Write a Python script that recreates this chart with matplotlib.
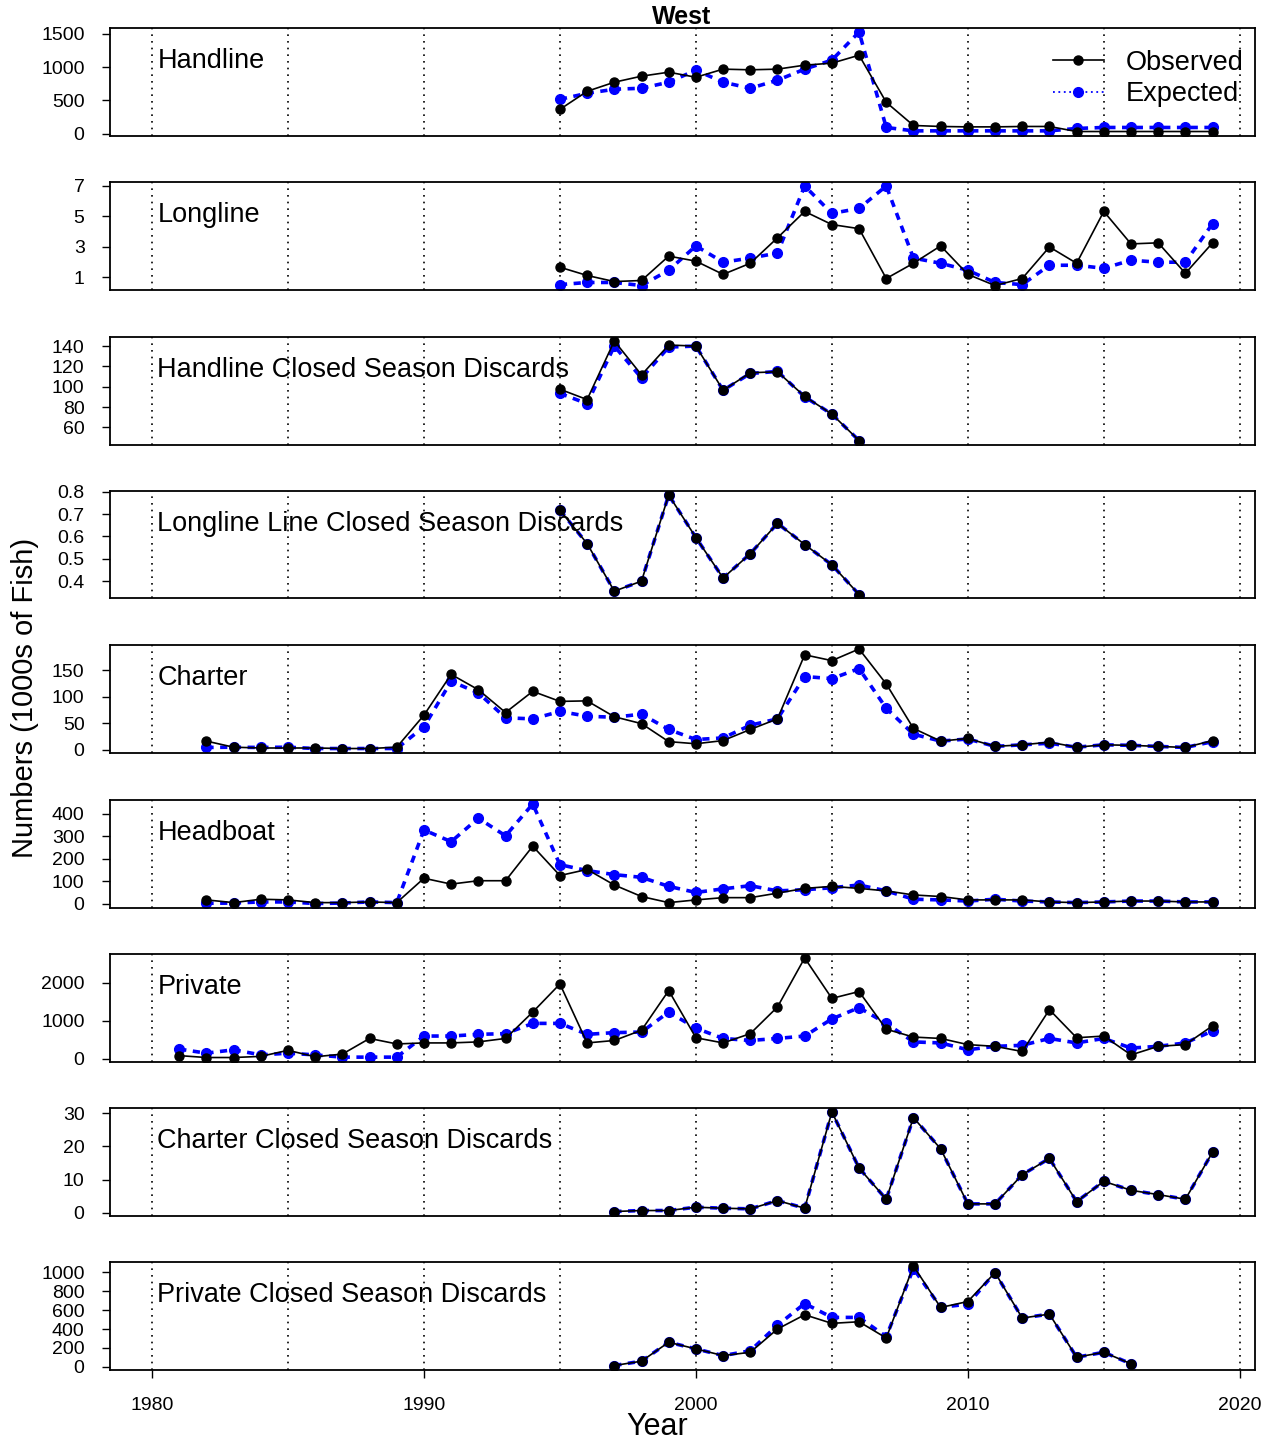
import numpy as np
import matplotlib
matplotlib.use("Agg")
import matplotlib.pyplot as plt
import matplotlib.transforms as mtransforms
from matplotlib.lines import Line2D

plt.rcParams["font.family"] = ["Liberation Sans", "DejaVu Sans"]

# ---- data (1000s of fish) ----
hl_years = list(range(1995, 2020))
hl_obs = [364, 636, 773, 864, 924, 848, 970, 960, 970, 1030, 1060, 1180, 470,
          121, 106, 100, 100, 106, 106, 30, 30, 30, 30, 30, 30]
hl_exp = [515, 606, 667, 682, 773, 955, 773, 682, 803, 970, 1106, 1530, 91,
          40, 40, 40, 40, 40, 40, 76, 91, 91, 91, 91, 91]

ll_years = list(range(1995, 2020))
ll_obs = [1.67, 1.13, 0.73, 0.8, 2.4, 2.07, 1.2, 1.93, 3.6, 5.33, 4.47, 4.2, 0.93,
          1.93, 3.07, 1.2, 0.47, 0.93, 3.0, 1.93, 5.33, 3.2, 3.27, 1.27, 3.27]
ll_exp = [0.53, 0.67, 0.67, 0.47, 1.47, 3.07, 2.0, 2.27, 2.6, 7.0, 5.2, 5.53, 7.0,
          2.27, 1.93, 1.47, 0.67, 0.53, 1.8, 1.8, 1.6, 2.13, 2.0, 2.0, 4.53]

hlcsd_years = list(range(1995, 2007))
hlcsd_obs = [97.5, 87.3, 145, 111.6, 141, 140, 96.5, 113.7, 114.7, 90.4, 73, 47]
hlcsd_exp = [93.4, 83.3, 140, 108.6, 139, 140, 96.5, 113, 115, 90, 73, 47]

llcsd_years = list(range(1995, 2007))
llcsd_obs = [0.718, 0.568, 0.355, 0.40, 0.786, 0.595, 0.414, 0.523, 0.659, 0.564, 0.473, 0.34]
llcsd_exp = [0.718, 0.568, 0.355, 0.40, 0.786, 0.595, 0.414, 0.523, 0.659, 0.564, 0.473, 0.34]

ch_years = list(range(1982, 2020))
ch_obs = [16, 4.5, 3, 3, 3, 2, 2, 4.5,
          65, 142, 113, 70, 110, 91, 92, 62, 49, 15,
          11, 17, 38, 58, 179, 168, 190, 124, 40, 16,
          21, 6, 9, 14, 4.5, 9, 8, 6, 4, 17]
ch_exp = [4, 4.5, 4, 4.5, 2, 2, 2, 2,
          43, 129, 107, 60, 58, 72, 63, 61, 67, 38,
          19, 22, 46, 58, 138, 134, 153, 78, 29, 16,
          20, 6, 9, 12, 4.5, 9, 8, 6, 4, 15]

hb_years = list(range(1982, 2020))
hb_obs = [18, 6, 21, 18, 6, 6, 9, 6,
          114, 88, 103, 103, 256, 126, 153, 84, 33, 6,
          18, 28, 28, 48, 69, 78, 69, 58, 40, 33,
          18, 18, 18, 9, 6, 9, 13, 13, 9, 9]
hb_exp = [3, 4, 9, 9, 2, 4, 9, 6,
          328, 276, 380, 302, 443, 174, 148, 130, 118, 78,
          51, 67, 81, 58, 63, 72, 84, 58, 21, 18,
          13, 21, 13, 9, 6, 9, 13, 13, 9, 9]

pv_years = list(range(1981, 2020))
pv_obs = [80, 30, 30, 60, 220, 50, 120, 532, 387,
          414, 414, 441, 532, 1225, 1965, 414, 478, 748, 1792,
          550, 414, 658, 1360, 2649, 1586, 1766, 775, 568, 532,
          370, 324, 189, 1289, 550, 595, 99, 324, 370, 865]
pv_exp = [252, 144, 234, 99, 144, 99, 40, 40, 40,
          595, 595, 640, 658, 928, 928, 640, 685, 700, 1225,
          802, 532, 478, 532, 595, 1045, 1343, 928, 441, 414,
          234, 324, 351, 532, 414, 532, 279, 324, 414, 730]

chcsd_years = list(range(1997, 2020))
chcsd_obs = [0.4, 0.7, 0.7, 1.7, 1.4, 1.2, 3.7, 1.4, 30.4, 13.5, 4.1, 28.7,
             19.3, 2.7, 2.7, 11.5, 16.4, 3.4, 9.5, 6.8, 5.5, 4.1, 18.3]
chcsd_exp = list(chcsd_obs)

pvcsd_years = list(range(1997, 2017))
pvcsd_obs = [14, 60, 260, 190, 119, 154, 400, 551, 460, 477, 305, 1067,
             628, 691, 997, 516, 558, 102, 154, 32]
pvcsd_exp = [14, 60, 260, 190, 119, 170, 440, 670, 523, 523, 320, 1040,
             630, 663, 997, 516, 558, 102, 154, 32]

panels = [
    ("Handline", hl_years, hl_obs, hl_exp, [0, 500, 1000, 1500]),
    ("Longline", ll_years, ll_obs, ll_exp, [1, 3, 5, 7]),
    ("Handline Closed Season Discards", hlcsd_years, hlcsd_obs, hlcsd_exp, [60, 80, 100, 120, 140]),
    ("Longline Line Closed Season Discards", llcsd_years, llcsd_obs, llcsd_exp, [0.4, 0.5, 0.6, 0.7, 0.8]),
    ("Charter", ch_years, ch_obs, ch_exp, [0, 50, 100, 150]),
    ("Headboat", hb_years, hb_obs, hb_exp, [0, 100, 200, 300, 400]),
    ("Private", pv_years, pv_obs, pv_exp, [0, 1000, 2000]),
    ("Charter Closed Season Discards", chcsd_years, chcsd_obs, chcsd_exp, [0, 10, 20, 30]),
    ("Private Closed Season Discards", pvcsd_years, pvcsd_obs, pvcsd_exp, [0, 200, 400, 600, 800, 1000]),
]

BLUE = "#0000ff"
W, H = 1269, 1441
fig = plt.figure(figsize=(W / 100, H / 100), dpi=100)

left_px, right_px = 109.6, 1255
tops = [28, 182, 337, 491, 645, 800, 954, 1108, 1262]
ph = 107.5
xlim = (1978.44, 2020.56)

for i, (name, yrs, obs, exp, yt) in enumerate(panels):
    ax = fig.add_axes([left_px / W, 1 - (tops[i] + ph) / H,
                       (right_px - left_px) / W, ph / H])
    for v in range(1980, 2021, 5):
        ax.axvline(v, color="black", lw=1.2, ls=(0, (1, 3)), zorder=1)
    ax.plot(yrs, exp, color=BLUE, lw=2.6, ls=(0, (2, 1.8)),
            marker="o", ms=7, zorder=2)
    ax.plot(yrs, obs, color="black", lw=1.2, marker="o", ms=6.5, zorder=3)
    lo = min(min(obs), min(exp))
    hi = max(max(obs), max(exp))
    pad = 0.04 * (hi - lo)
    ax.set_ylim(lo - pad, hi + pad)
    ax.set_xlim(*xlim)
    ax.set_yticks(yt)
    ax.set_yticklabels([f"{t:g}" for t in yt])
    ax.tick_params(axis="y", length=6, width=1, pad=12, labelsize=14)
    for s in ax.spines.values():
        s.set_linewidth(1.3)
    trans = mtransforms.blended_transform_factory(ax.transData, ax.transAxes)
    ax.text(1980.2, 0.69, name, transform=trans, fontsize=19.5,
            ha="left", va="center", zorder=4)
    if i == len(panels) - 1:
        ax.set_xticks([1980, 1990, 2000, 2010, 2020])
        ax.tick_params(axis="x", length=6, width=1, pad=14, labelsize=14)
    else:
        ax.set_xticks([])
    if i == 0:
        handles = [
            Line2D([], [], color="black", lw=1.2, marker="o", ms=6.5),
            Line2D([], [], color=BLUE, lw=1.3, ls=(0, (1, 2)), marker="o", ms=7),
        ]
        leg = ax.legend(handles, ["Observed", "Expected"], loc="upper right",
                        bbox_to_anchor=(1.009, 1.0),
                        frameon=False, fontsize=19.5, handlelength=1.9,
                        handletextpad=0.8, labelspacing=0.2,
                        borderaxespad=0.0, borderpad=0.8)
        leg.set_zorder(5)

fig.text(682 / W, 1 - 17 / H, "West", ha="center", va="center",
         fontsize=18, fontweight="bold")
fig.text(25 / W, 1 - 698 / H, "Numbers (1000s of Fish)", rotation=90,
         ha="center", va="center", fontsize=21)
fig.text(657 / W, 1 - 1427 / H, "Year", ha="center", va="center", fontsize=22)

fig.savefig("out.png", dpi=100)
